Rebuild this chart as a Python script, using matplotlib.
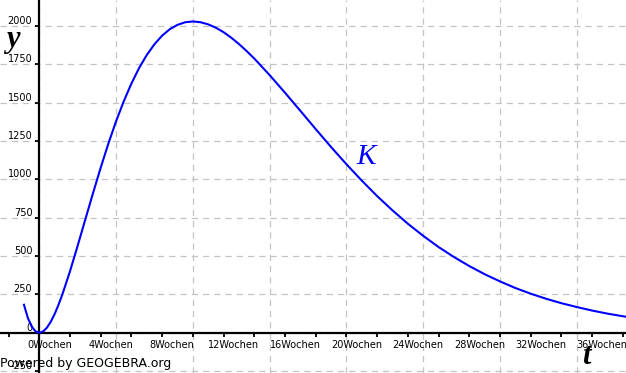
import matplotlib
matplotlib.use("Agg")
import matplotlib.pyplot as plt
import matplotlib.transforms as mtransforms
from matplotlib.ticker import MultipleLocator

# ----------- DATA ------------------------------------
weeks = [-1, -0.75, -0.5, -0.25, 0, 0.25, 0.5, 0.75, 1, 1.25, 1.5, 2, 2.5, 3,
         3.5, 4, 4.5, 5, 5.5, 6, 6.5, 7, 7.5, 8, 8.5, 9, 9.5, 10, 10.5, 11,
         11.5, 12, 12.5, 13, 13.5, 14, 15, 16, 17, 18, 19, 20, 21, 22, 23, 24,
         25, 26, 27, 28, 29, 30, 31, 32, 33, 34, 35, 36, 37, 38, 38.2]
values = [183, 98, 41, 10, 0, 9, 34, 73, 123, 183, 250, 402, 569, 741, 912,
          1078, 1235, 1380, 1510, 1626, 1727, 1812, 1882, 1938, 1980, 2008,
          2025, 2030, 2025, 2011, 1989, 1960, 1924, 1883, 1837, 1788, 1680,
          1565, 1447, 1328, 1211, 1099, 992, 891, 798, 711, 632, 559, 494, 435,
          382, 335, 292, 255, 222, 193, 168, 145, 125, 108, 105]

x_label_ticks = list(range(0, 37, 4))
x_tick_labels = [f"{w}Wochen" for w in x_label_ticks]
y_label_ticks = list(range(-250, 2001, 250))
y_tick_labels = [str(v) for v in y_label_ticks]

# ----------- FIGURE ------------
fig = plt.figure(figsize=(6.26, 3.73), dpi=100)
ax = fig.add_axes([0, 0, 1, 1])
ax.set_xlim(-2.56, 38.2)
ax.set_ylim(-262, 2170)

# grid
for gx in range(0, 39, 5):
    ax.axvline(gx, color="#c4c4c4", lw=0.9, ls=(0, (5, 4)), zorder=0)
for gy in range(-250, 2170, 250):
    ax.axhline(gy, color="#c4c4c4", lw=0.9, ls=(0, (5, 4)), zorder=0)

# axes through the origin
for side in ["top", "right"]:
    ax.spines[side].set_visible(False)
ax.spines["left"].set_position(("data", 0))
ax.spines["bottom"].set_position(("data", 0))
ax.spines["left"].set_linewidth(1.6)
ax.spines["bottom"].set_linewidth(1.6)

ax.set_xticks(x_label_ticks, x_tick_labels)
ax.xaxis.set_minor_locator(MultipleLocator(2))
ax.set_yticks(y_label_ticks, y_tick_labels)
ax.tick_params(axis="x", which="both", direction="out", length=3, width=1.3,
               pad=2.5, labelsize=7)
ax.tick_params(axis="y", direction="out", length=3, width=1.3, pad=2, labelsize=7)

shift = mtransforms.ScaledTranslation(0.10, 0, fig.dpi_scale_trans)
for lbl in ax.get_xticklabels():
    lbl.set_transform(lbl.get_transform() + shift)
for lbl in ax.get_yticklabels():
    lbl.set_va("bottom")

# curve
ax.plot(weeks, values, color="#0000ff", lw=1.5, zorder=3)

# labels
ax.text(21.3, 1146, "K", color="#0000ff", fontsize=21, style="italic",
        family="Liberation Serif", ha="center", va="center")
ax.text(0.01, 0.895, "y", transform=ax.transAxes, fontsize=22, style="italic",
        weight="bold", family="Liberation Serif", ha="left", va="center")
ax.text(0.937, 0.045, "t", transform=ax.transAxes, fontsize=22, style="italic",
        weight="bold", family="Liberation Serif", ha="center", va="center")
ax.text(0.0, 0.016, "Powered by GEOGEBRA.org", transform=ax.transAxes,
        fontsize=9, ha="left", va="baseline", zorder=5)

fig.savefig("out.png", dpi=100, facecolor="white")
